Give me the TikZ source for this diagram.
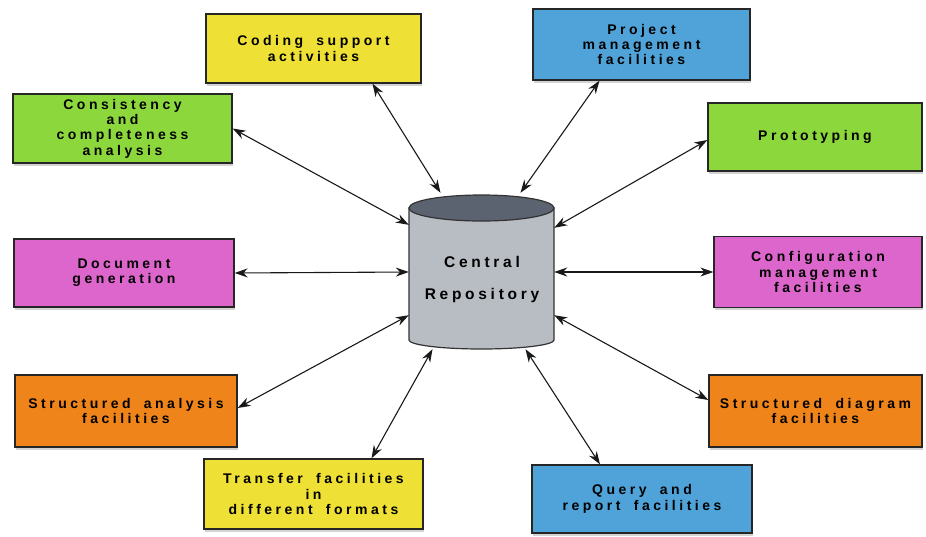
\documentclass[tikz,border=0pt]{standalone}
\usepackage{fontspec}
\usetikzlibrary{arrows.meta,shadows}
\newfontfamily\boxfont{Liberation Sans}[LetterSpace=25,WordSpace=1.8]
\newfontfamily\repofont{Liberation Sans}[LetterSpace=24]
\definecolor{cyellow}{RGB}{238,224,52}
\definecolor{cblue}{RGB}{80,163,217}
\definecolor{cgreen}{RGB}{140,216,60}
\definecolor{cmagenta}{RGB}{221,102,204}
\definecolor{corange}{RGB}{239,132,26}
\definecolor{cylbody}{RGB}{184,188,195}
\definecolor{cyltop}{RGB}{92,99,112}
\tikzset{
  tool/.style={draw=black!85, line width=1.3pt, align=center, inner sep=0pt,
    font=\boxfont\bfseries\fontsize{14}{15.3}\selectfont,
    drop shadow={shadow xshift=1pt, shadow yshift=-2.5pt, opacity=0.35}},
  link/.style={{Stealth[length=13pt,width=9pt]}-{Stealth[length=13pt,width=9pt]},
    line width=1.1pt, black!90},
}
\begin{document}
\begin{tikzpicture}[x=1pt,y=-1pt]
\useasboundingbox (0,0) rectangle (926,536);

% central repository cylinder
\path[fill=cylbody, draw=black!80, line width=1.2pt]
  (409,208) -- (409,340) arc[start angle=180, end angle=360, x radius=72.5pt, y radius=9pt]
  -- (554,208) -- cycle;
\draw[fill=cyltop, draw=black!80, line width=1.2pt] (481.5,208) ellipse[x radius=72.5pt, y radius=13pt];
\node[minimum width=145pt, minimum height=154pt, inner sep=0pt] (repo) at (481.5,272) {};
\node[font=\repofont\bfseries\fontsize{15.5}{32}\selectfont, align=center] (repolabel) at (482,279) {Central\\Repository};

% surrounding tools
\node[tool, fill=cyellow, minimum width=215pt, minimum height=69pt] (coding) at (313.5,48.5) {Coding support\\activities};
\node[tool, fill=cblue, minimum width=217pt, minimum height=71pt] (project) at (641.5,44.5) {Project\\management\\facilities};
\node[tool, fill=cgreen, minimum width=219pt, minimum height=69pt] (consist) at (122.5,128.5) {Consistency\\and\\completeness\\analysis};
\node[tool, fill=cgreen, minimum width=214pt, minimum height=68pt] (proto) at (815,137) {Prototyping};
\node[tool, fill=cmagenta, minimum width=220pt, minimum height=68pt] (docgen) at (124,273) {Document\\generation};
\node[tool, fill=cmagenta, minimum width=208pt, minimum height=71pt] (config) at (818,272) {Configuration\\management\\facilities};
\node[tool, fill=corange, minimum width=222pt, minimum height=72pt] (sanal) at (126,411) {Structured analysis\\facilities};
\node[tool, fill=corange, minimum width=213pt, minimum height=72pt] (sdiag) at (815.5,411) {Structured diagram\\facilities};
\node[tool, fill=cyellow, minimum width=219pt, minimum height=70pt] (transfer) at (313.5,494) {Transfer facilities\\in\\different formats};
\node[tool, fill=cblue, minimum width=220pt, minimum height=68pt] (query) at (642,499) {Query and\\report facilities};

% two-way links to the repository
\draw[link] ([xshift=59pt]coding.south) -- ([xshift=-41pt,yshift=2pt]repo.north);
\draw[link] ([xshift=-42pt]project.south) -- ([xshift=39pt,yshift=2pt]repo.north);
\draw[link] (consist.east) -- ([yshift=-30pt]repo.north west);
\draw[link] ([yshift=-3pt]proto.west) -- ([yshift=-33pt]repo.north east);
\draw[link] (docgen.east) -- (repo.west);
\draw[link] (config.west) -- (repo.east);
\draw[link] ([yshift=3pt]sanal.east) -- ([yshift=34pt]repo.south west);
\draw[link] ([yshift=11pt]sdiag.west) -- ([yshift=34pt]repo.south east);
\draw[link] ([xshift=58pt]transfer.north) -- ([xshift=-49pt]repo.south);
\draw[link] ([xshift=-42pt]query.north) -- ([xshift=44pt]repo.south);
\end{tikzpicture}
\end{document}
